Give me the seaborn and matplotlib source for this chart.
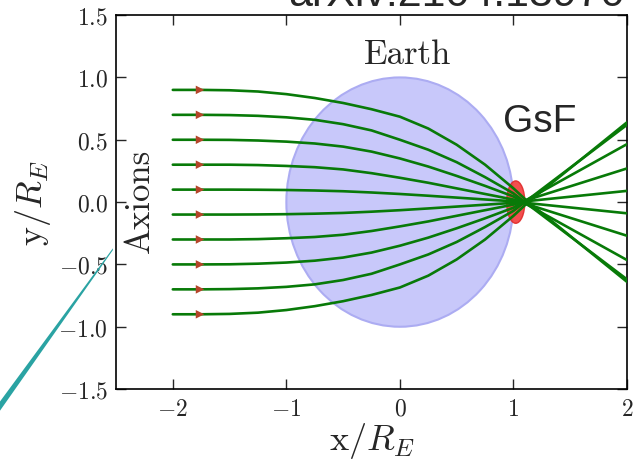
import numpy as np
import pandas as pd
import matplotlib
matplotlib.use("Agg")
import matplotlib.pyplot as plt
from matplotlib.patches import Ellipse, Polygon
import seaborn as sns

# ── data ──────────────────────────────────────────────────
x_pre = [-2.0, -1.75, -1.5, -1.25, -1.0, -0.75, -0.5, -0.25, 0.0, 0.25, 0.5, 0.75, 1.0]
ray_start = [0.9, 0.7, 0.5, 0.3, 0.1, -0.1, -0.3, -0.5, -0.7, -0.9]
ray_pre = [
    [0.90, 0.90, 0.897, 0.887, 0.866, 0.835, 0.795, 0.745, 0.685, 0.590, 0.460, 0.300, 0.110],
    [0.70, 0.70, 0.698, 0.692, 0.680, 0.660, 0.625, 0.575, 0.500, 0.420, 0.320, 0.200, 0.070],
    [0.50, 0.50, 0.499, 0.494, 0.485, 0.470, 0.445, 0.405, 0.350, 0.285, 0.210, 0.130, 0.045],
    [0.30, 0.30, 0.300, 0.297, 0.290, 0.280, 0.262, 0.232, 0.195, 0.155, 0.110, 0.065, 0.020],
    [0.10, 0.10, 0.100, 0.099, 0.097, 0.093, 0.087, 0.077, 0.065, 0.051, 0.036, 0.021, 0.006],
    [-0.10, -0.10, -0.100, -0.099, -0.097, -0.093, -0.087, -0.077, -0.065, -0.051, -0.036, -0.021, -0.006],
    [-0.30, -0.30, -0.300, -0.297, -0.290, -0.280, -0.262, -0.232, -0.195, -0.155, -0.110, -0.065, -0.020],
    [-0.50, -0.50, -0.499, -0.494, -0.485, -0.470, -0.445, -0.405, -0.350, -0.285, -0.210, -0.130, -0.045],
    [-0.70, -0.70, -0.698, -0.692, -0.680, -0.660, -0.625, -0.575, -0.500, -0.420, -0.320, -0.200, -0.070],
    [-0.90, -0.90, -0.897, -0.887, -0.866, -0.835, -0.795, -0.745, -0.685, -0.590, -0.460, -0.300, -0.110],
]
ray_focus_x = [1.13, 1.10, 1.08, 1.06, 1.04, 1.04, 1.06, 1.08, 1.10, 1.13]
ray_end_x = 2.0
ray_end_y = [-0.64, -0.62, -0.465, -0.27, -0.09, 0.09, 0.27, 0.465, 0.62, 0.64]
arrow_x = -1.76

earth_center, earth_radius = (0.0, 0.0), 1.0
gsf_center, gsf_w, gsf_h = (1.02, 0.0), 0.16, 0.34

rows = []
for i, y0 in enumerate(ray_start):
    for xv, yv in zip(x_pre, ray_pre[i]):
        if xv < ray_focus_x[i]:
            rows.append((i, xv, yv))
    rows.append((i, ray_focus_x[i], 0.0))
    rows.append((i, ray_end_x, ray_end_y[i]))
rays = pd.DataFrame(rows, columns=["ray", "x", "y"])
arrows = pd.DataFrame({"x": [arrow_x] * len(ray_start), "y": ray_start})

# ── style ─────────────────────────────────────────────────
sns.set_theme(style="ticks")
plt.rcParams.update({
    "font.family": ["cmr10", "DejaVu Serif"],
    "mathtext.fontset": "cm",
    "axes.formatter.use_mathtext": True,
    "axes.unicode_minus": True,
    "xtick.direction": "in", "ytick.direction": "in",
    "xtick.top": True, "ytick.right": True,
    "xtick.major.size": 7, "ytick.major.size": 7,
    "xtick.major.width": 1.0, "ytick.major.width": 1.0,
    "axes.linewidth": 1.2, "axes.edgecolor": "black",
})

fig = plt.figure(figsize=(6.34, 4.60), dpi=100)
ax = fig.add_axes([0.183, 0.152, 0.806, 0.813])

ax.add_patch(Ellipse(earth_center, 2 * earth_radius, 2 * earth_radius,
                     facecolor="#c8c8fa", edgecolor="#acacf2", lw=1.5, zorder=1))
ax.add_patch(Ellipse(gsf_center, gsf_w, gsf_h,
                     facecolor="#f23c3c", edgecolor="#e02a2a", lw=1.0, alpha=0.9, zorder=2))

sns.lineplot(data=rays, x="x", y="y", units="ray", estimator=None, sort=False,
             color="#087a08", lw=1.9, legend=False, ax=ax, zorder=3)
sns.scatterplot(data=arrows, x="x", y="y", marker=">", s=38, color="#b5452a",
                edgecolor="none", legend=False, ax=ax, zorder=4)

ax.set_xlim(-2.5, 2.0)
ax.set_ylim(-1.5, 1.5)
ax.set_xticks([-2, -1, 0, 1, 2])
ax.set_yticks([-1.5, -1.0, -0.5, 0.0, 0.5, 1.0, 1.5])
ax.yaxis.set_major_formatter(matplotlib.ticker.FormatStrFormatter("$%.1f$"))
ax.xaxis.set_major_formatter(matplotlib.ticker.FormatStrFormatter("$%d$"))
ax.tick_params(labelsize=17, pad=6)
ax.set_xlabel(r"$\mathrm{x}/R_E$", fontsize=26, labelpad=0)
ax.set_ylabel(r"$\mathrm{y}/R_E$", fontsize=26, labelpad=4)

ax.text(0.07, 1.19, "Earth", fontsize=25, ha="center", va="center", zorder=5)
ax.text(-2.29, 0.02, "Axions", fontsize=25, rotation=90, ha="center", va="center", zorder=5)
ax.text(1.23, 0.65, "GsF", fontsize=28, family=["Liberation Sans", "DejaVu Sans"],
        ha="center", va="center", zorder=5)

# clipped caption at the top edge and the stray teal stroke on the left
fig.text(0.985, 0.987, "arXiv:2104.13970", fontsize=31,
         family=["Liberation Sans", "DejaVu Sans"], ha="right", va="baseline")
fig.patches.append(Polygon([[0.0, 0.105], [0.0, 0.125], [0.178, 0.458], [0.178, 0.454]],
                           closed=True, transform=fig.transFigure, facecolor="#2aa3a3",
                           edgecolor="none", figure=fig))

fig.savefig("out.png", dpi=100)
